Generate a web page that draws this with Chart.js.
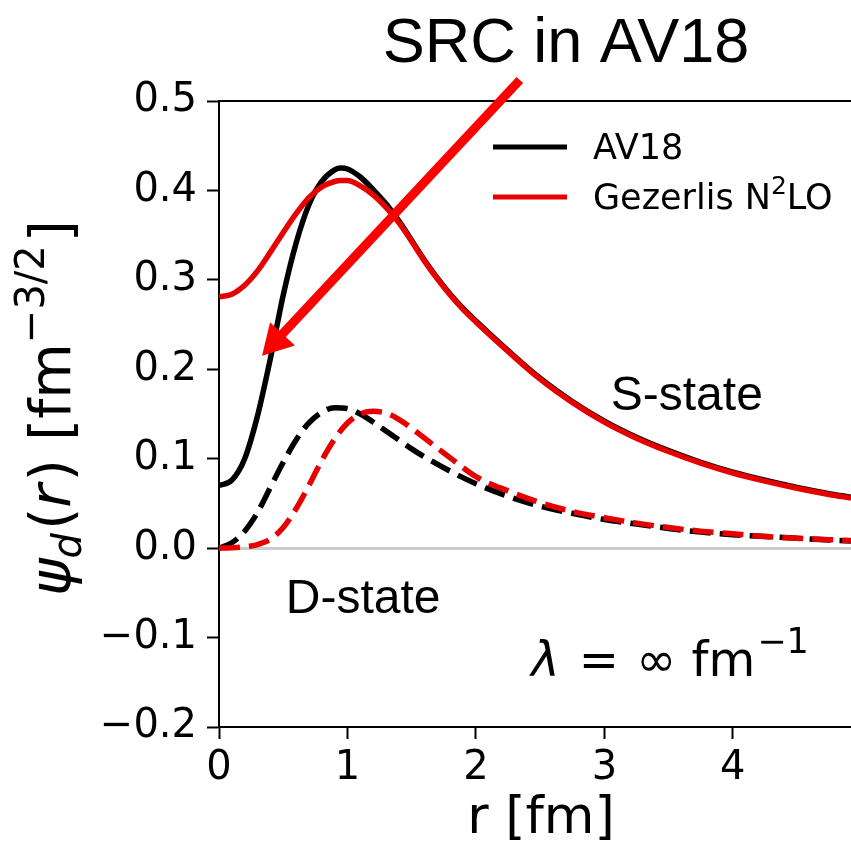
<!DOCTYPE html>
<html><head><meta charset="utf-8">
<script src="https://cdn.jsdelivr.net/npm/chart.js@4.4.0/dist/chart.umd.min.js"></script>
<style>html,body{margin:0;padding:0;background:#fff;overflow:hidden}#wrap{width:851px;height:846px}</style>
</head><body><div id="wrap"><canvas id="c" width="851" height="846"></canvas></div>
<script>
// ---- data ----
const rS    = [0,0.1,0.2,0.3,0.4,0.5,0.6,0.7,0.8,0.9,0.95,1.0,1.1,1.2,1.3,1.4,1.5,1.6,1.7,1.8,1.9,2.0,2.25,2.5,2.75,3.0,3.25,3.5,3.75,4.0,4.25,4.5,4.75,4.92];
const av18S = [0.070,0.076,0.100,0.148,0.212,0.283,0.341,0.384,0.410,0.423,0.425,0.424,0.415,0.401,0.385,0.366,0.344,0.322,0.302,0.284,0.268,0.254,0.221,0.190,0.164,0.142,0.124,0.109,0.096,0.085,0.076,0.068,0.061,0.057];
const gezS  = [0.281,0.284,0.294,0.310,0.331,0.353,0.374,0.392,0.404,0.410,0.411,0.411,0.405,0.395,0.381,0.364,0.343,0.321,0.301,0.283,0.267,0.253,0.220,0.189,0.163,0.141,0.123,0.108,0.095,0.084,0.075,0.067,0.060,0.056];
const rD    = [0,0.1,0.2,0.3,0.4,0.5,0.6,0.7,0.8,0.9,1.0,1.1,1.2,1.3,1.4,1.5,1.6,1.8,2.0,2.25,2.5,2.75,3.0,3.25,3.5,3.75,4.0,4.25,4.5,4.75,4.92];
const av18D = [0,0.006,0.019,0.040,0.068,0.096,0.121,0.140,0.152,0.157,0.156,0.150,0.141,0.131,0.121,0.111,0.102,0.086,0.072,0.058,0.047,0.039,0.032,0.027,0.022,0.018,0.015,0.013,0.011,0.009,0.008];
const gezD  = [0,0.0003,0.0015,0.004,0.010,0.023,0.044,0.070,0.098,0.122,0.140,0.150,0.153,0.151,0.144,0.134,0.123,0.101,0.080,0.064,0.051,0.041,0.034,0.028,0.023,0.019,0.016,0.013,0.011,0.0095,0.0085];
const xTicks = [0,1,2,3,4];
const yTicks = [-0.2,-0.1,0.0,0.1,0.2,0.3,0.4,0.5];
const seriesNames = ['AV18','Gezerlis N²LO'];
// annotation anchors (data coordinates)
const arrowFrom = {x:2.342, y:0.5235};
const arrowTo   = {x:0.335, y:0.215};
const sLabel = {x:3.05, y:0.154, text:'S-state'};
const dLabel = {x:0.52, y:-0.073, text:'D-state'};
const lamLabel = {x:2.43, y:-0.143};

const BLACK = '#000000', RED = '#e60000';
const pts = (xs, ys) => xs.map((x,i)=>({x:x, y:ys[i]}));

function drawRuns(ctx, runs, x, y, align){
  let w = 0;
  runs.forEach(r=>{ctx.font=r.font; r.w=ctx.measureText(r.t).width + (r.gap||0); w+=r.w;});
  let cx = align==='center' ? x-w/2 : (align==='right' ? x-w : x);
  runs.forEach(r=>{ctx.font=r.font; ctx.fillText(r.t, cx, y+(r.dy||0)); cx+=r.w;});
  return w;
}

const annot = {
  id:'annot',
  beforeDraw(chart){
    const c = chart.ctx; c.save(); c.fillStyle='#fff'; c.fillRect(0,0,chart.width,chart.height); c.restore();
  },
  afterDraw(chart){
    const ctx = chart.ctx, xs = chart.scales.x, ys = chart.scales.y, ca = chart.chartArea;
    ctx.save();
    // top spine
    ctx.strokeStyle='#000'; ctx.lineWidth=2;
    ctx.beginPath(); ctx.moveTo(ca.left, ca.top); ctx.lineTo(ca.right, ca.top); ctx.stroke();
    ctx.textAlign='left'; ctx.textBaseline='alphabetic'; ctx.fillStyle='#000';
    // title-like annotation
    ctx.font = '63px "Liberation Sans", Arial, sans-serif';
    ctx.textAlign='center';
    ctx.fillText('SRC in AV18', 566, 62);
    ctx.textAlign='left';
    // state labels
    ctx.font = '48px "Liberation Sans", Arial, sans-serif';
    ctx.fillText(sLabel.text, xs.getPixelForValue(sLabel.x), ys.getPixelForValue(sLabel.y));
    ctx.fillText(dLabel.text, xs.getPixelForValue(dLabel.x), ys.getPixelForValue(dLabel.y));
    // lambda label
    const LF = 48;
    drawRuns(ctx, [
      {t:'λ', font:`italic ${LF}px "DejaVu Sans"`, gap:4},
      {t:' = ', font:`${LF}px "DejaVu Sans"`, gap:2},
      {t:'∞', font:`${LF}px "DejaVu Sans"`},
      {t:' fm', font:`${LF}px "DejaVu Sans"`, gap:2},
      {t:'−1', font:`${Math.round(LF*0.72)}px "DejaVu Sans"`, dy:-0.48*LF}
    ], xs.getPixelForValue(lamLabel.x), ys.getPixelForValue(lamLabel.y), 'left');
    // legend
    const lg = [{name:seriesNames[0], color:BLACK, y:147},{name:seriesNames[1], color:RED, y:197}];
    lg.forEach(e=>{
      ctx.strokeStyle=e.color; ctx.lineWidth=5; ctx.lineCap='butt';
      ctx.beginPath(); ctx.moveTo(493,e.y); ctx.lineTo(567,e.y); ctx.stroke();
    });
    const LG = 35;
    drawRuns(ctx,[{t:'AV18', font:`${LG}px "DejaVu Sans"`}], 593, 159, 'left');
    drawRuns(ctx,[{t:'Gezerlis N', font:`${LG}px "DejaVu Sans"`},{t:'2', font:`${Math.round(LG*0.7)}px "DejaVu Sans"`, dy:-0.42*LG},{t:'LO', font:`${LG}px "DejaVu Sans"`}], 593, 209, 'left');
    // x axis title
    ctx.font = '52px "DejaVu Sans"'; ctx.textAlign='center';
    ctx.fillText('r [fm]', 541, 833);
    ctx.textAlign='left';
    // y axis title (rotated)
    const YF = 57;
    ctx.save(); ctx.translate(70, 408); ctx.rotate(-Math.PI/2);
    drawRuns(ctx,[
      {t:'ψ', font:`italic ${YF}px "DejaVu Sans"`},
      {t:'d', font:`italic ${Math.round(YF*0.7)}px "DejaVu Sans"`, dy:0.2*YF, gap:3},
      {t:'(', font:`${YF}px "DejaVu Sans"`},
      {t:'r', font:`italic ${YF}px "DejaVu Sans"`, gap:3},
      {t:') [fm', font:`${YF}px "DejaVu Sans"`},
      {t:'−3/2', font:`${Math.round(YF*0.7)}px "DejaVu Sans"`, dy:-0.45*YF, gap:3},
      {t:']', font:`${YF}px "DejaVu Sans"`}
    ], 0, 0, 'center');
    ctx.restore();
    // arrow
    const x0 = xs.getPixelForValue(arrowFrom.x), y0 = ys.getPixelForValue(arrowFrom.y);
    const x1 = xs.getPixelForValue(arrowTo.x),   y1 = ys.getPixelForValue(arrowTo.y);
    const dx = x1-x0, dy = y1-y0, L = Math.hypot(dx,dy), ux = dx/L, uy = dy/L;
    const HL = 30, HW = 17;
    const bx = x1-ux*HL, by = y1-uy*HL;
    ctx.strokeStyle='#ff0000'; ctx.fillStyle='#ff0000'; ctx.lineWidth=9; ctx.lineCap='butt';
    ctx.beginPath(); ctx.moveTo(x0,y0); ctx.lineTo(bx+ux*2, by+uy*2); ctx.stroke();
    ctx.beginPath(); ctx.moveTo(x1,y1); ctx.lineTo(bx-uy*HW, by+ux*HW); ctx.lineTo(bx+uy*HW, by-ux*HW); ctx.closePath(); ctx.fill();
    ctx.restore();
  }
};

const tickFont = {family:'DejaVu Sans', size:40};
new Chart(document.getElementById('c'), {
  type:'line',
  data:{datasets:[
    {label:seriesNames[0]+' S', data:pts(rS,av18S), borderColor:BLACK, borderWidth:5.5, order:2},
    {label:seriesNames[0]+' D', data:pts(rD,av18D), borderColor:BLACK, borderWidth:5.5, borderDash:[21,9], order:2},
    {label:seriesNames[1]+' S', data:pts(rS,gezS), borderColor:RED, borderWidth:5.5, order:1},
    {label:seriesNames[1]+' D', data:pts(rD,gezD), borderColor:RED, borderWidth:5.5, borderDash:[21,9], order:1}
  ]},
  options:{
    responsive:false, animation:false, devicePixelRatio:1,
    layout:{padding:{top:101,left:0,right:0,bottom:0}},
    plugins:{legend:{display:false}, tooltip:{enabled:false}, title:{display:false}},
    elements:{point:{radius:0}, line:{cubicInterpolationMode:'monotone', fill:false}},
    scales:{
      x:{type:'linear', min:0, max:4.92,
         afterFit(s){s.height=119;},
         afterBuildTicks(s){s.ticks=xTicks.map(v=>({value:v}));},
         ticks:{font:tickFont, color:'#000', padding:6, maxRotation:0, autoSkip:false, callback:v=>String(v)},
         grid:{drawOnChartArea:false, drawTicks:true, tickLength:12, tickColor:'#000', tickWidth:2},
         border:{display:true, color:'#000', width:2}},
      y:{type:'linear', min:-0.2, max:0.5,
         afterFit(s){s.width=219;},
         afterBuildTicks(s){s.ticks=yTicks.map(v=>({value:v}));},
         ticks:{font:tickFont, color:'#000', padding:10, autoSkip:false, callback:v=>(v<-1e-9?'−':'')+Math.abs(v).toFixed(1)},
         grid:{drawOnChartArea:true, color:c=>(c.tick && Math.abs(c.tick.value)<1e-9)?'#cccccc':'rgba(0,0,0,0)',
               lineWidth:c=>(c.tick && Math.abs(c.tick.value)<1e-9)?3:1,
               drawTicks:true, tickLength:12, tickColor:'#000', tickWidth:2},
         border:{display:true, color:'#000', width:2}}
    }
  },
  plugins:[annot]
});
</script></body></html>
